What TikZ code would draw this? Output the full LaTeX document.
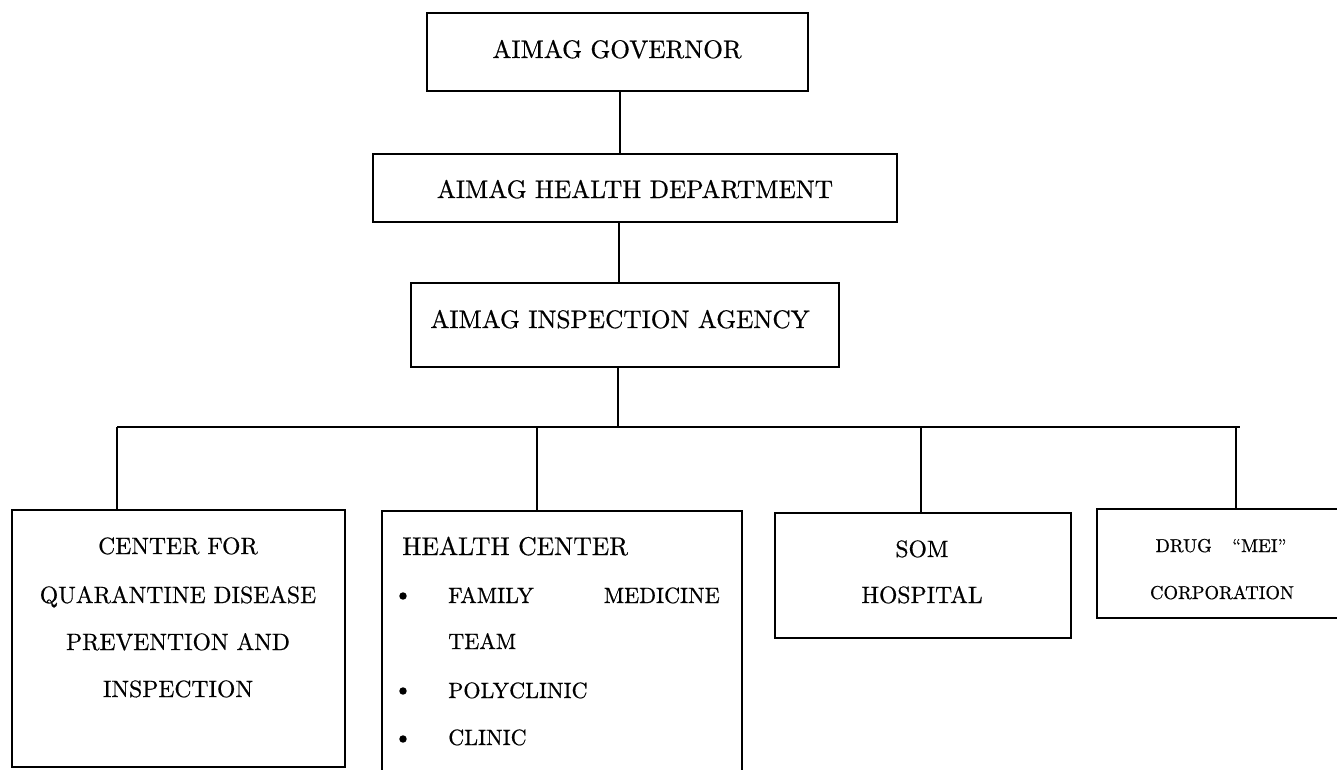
\documentclass[tikz,border=0pt]{standalone}
\usepackage{fontspec}
\setmainfont{lmroman10-regular.otf}[FakeBold=0.6]
\usetikzlibrary{fit}
\begin{document}
\begin{tikzpicture}[x=0.75pt,y=-0.75pt,
  box/.style={draw, line width=1.4pt, inner sep=0pt, rectangle},
  conn/.style={line width=1.1pt},
  toptxt/.style={font=\fontsize{19.0}{22}\selectfont, inner sep=0pt, anchor=base},
  midtxt/.style={font=\fontsize{17.7}{20}\selectfont, inner sep=0pt, anchor=base},
  itemtxt/.style={font=\fontsize{16.6}{19}\selectfont, inner sep=0pt, anchor=base west},
  smalltxt/.style={font=\fontsize{14.0}{17}\selectfont, inner sep=0pt, anchor=base},
  bul/.style={circle, fill=black, inner sep=0pt, minimum size=5.6pt}]
\useasboundingbox (0,0) rectangle (1337,770);
\clip (0,0) rectangle (1337,770);

% top boxes
\node[box, fit={(427,13) (808,91)}] (gov) {};
\node[toptxt] (govt) at (617,58) {AIMAG GOVERNOR};
\node[box, fit={(373,154) (897,222)}] (hd) {};
\node[toptxt] (hdt) at (635,198) {AIMAG HEALTH DEPARTMENT};
\node[box, fit={(411,283) (839,367)}] (ia) {};
\node[toptxt] (iat) at (620,328) {AIMAG INSPECTION AGENCY};

% bottom boxes
\node[box, fit={(12,510) (345,767)}] (cen) {};
\node[midtxt] (cen1) at (178,554) {CENTER FOR};
\node[midtxt] (cen2) at (178,603) {QUARANTINE DISEASE};
\node[midtxt] (cen3) at (178,650) {PREVENTION AND};
\node[midtxt] (cen4) at (178,697) {INSPECTION};

\node[box, fit={(382,511) (742,800)}] (hc) {};
\node[font=\fontsize{19.2}{22}\selectfont, inner sep=0pt, anchor=base west] (hc0) at (402,555) {HEALTH CENTER};
\node[bul] (b1) at (403,596) {};
\node[itemtxt] (hc1) at (448,603) {FAMILY};
\node[itemtxt, anchor=base east] (hc1b) at (720,603) {MEDICINE};
\node[itemtxt] (hc2) at (448,649) {TEAM};
\node[bul] (b2) at (403,691) {};
\node[itemtxt] (hc3) at (448,698) {POLYCLINIC};
\node[bul] (b3) at (403,739) {};
\node[itemtxt] (hc4) at (448,745) {CLINIC};

\node[box, fit={(775,513) (1071,638)}] (som) {};
\node[midtxt] (som1) at (922,557) {SOM};
\node[midtxt] (som2) at (922,603) {HOSPITAL};

\node[box, fit={(1097,509) (1350,618)}] (drug) {};
\node[smalltxt] (drug1) at (1221,552) {DRUG\hspace{1.1em}“MEI”};
\node[smalltxt] (drug2) at (1222,599) {CORPORATION};

% connectors
\coordinate (x1) at (620,0);
\coordinate (x2) at (619,0);
\coordinate (x3) at (618,0);
\coordinate (barL) at (117,427);
\coordinate (barR) at (1240,427);
\coordinate (x5) at (537,0);
\coordinate (x6) at (921,0);
\coordinate (x7) at (1236,0);
\draw[conn] (gov.south -| x1) -- (hd.north -| x1);
\draw[conn] (hd.south -| x2) -- (ia.north -| x2);
\draw[conn] (ia.south -| x3) -- (barL -| x3);
\draw[conn] (barL) -- (barR);
\draw[conn] (barL) -- (barL |- cen.north);
\draw[conn] (barL -| x5) -- (hc.north -| x5);
\draw[conn] (barL -| x6) -- (som.north -| x6);
\draw[conn] (barL -| x7) -- (drug.north -| x7);
\end{tikzpicture}
\end{document}
